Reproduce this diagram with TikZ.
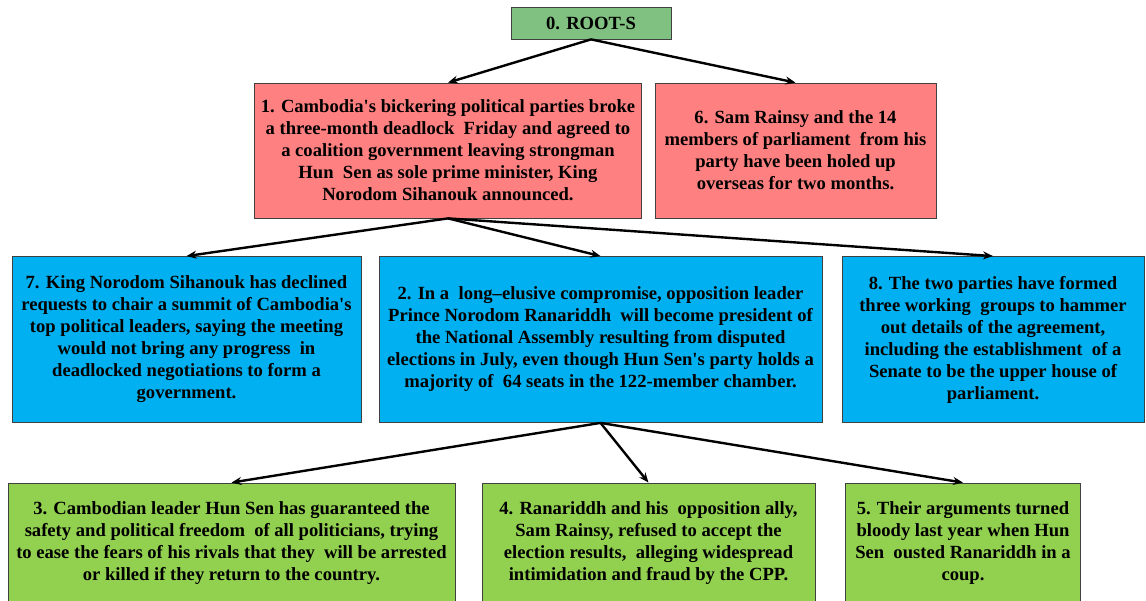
\documentclass[tikz,border=0pt]{standalone}
\usepackage{fontspec}
\setmainfont{Liberation Serif}
\usetikzlibrary{arrows.meta}

\definecolor{rootgreen}{HTML}{80C080}
\definecolor{sentpink}{HTML}{FF8080}
\definecolor{sentblue}{HTML}{00B0F0}
\definecolor{sentgreen}{HTML}{92D050}

\newcommand{\ap}{\textquotesingle}

\tikzset{
    sbox/.style={draw=black!75, line width=0.8pt, align=center, inner sep=2pt,
        font=\bfseries\fontsize{18.6}{22}\selectfont},
    rootbox/.style={sbox, fill=rootgreen},
    pinkbox/.style={sbox, fill=sentpink, minimum height=135pt},
    bluebox/.style={sbox, fill=sentblue, minimum height=166pt},
    greenbox/.style={sbox, fill=sentgreen, minimum height=120pt},
    link/.style={-{Stealth[length=10pt,width=8pt]}, line width=2.4pt}
}

\begin{document}
\begin{tikzpicture}[x=1pt, y=-1pt]
        \useasboundingbox (0,0) rectangle (1146,601);

        \node[rootbox, minimum width=160pt, minimum height=32pt] (R) at (591,23) {0. ROOT-S};

        \node[pinkbox, minimum width=387pt] (S1) at (448,150.5) {1. Cambodia\ap s bickering political parties broke\\a three-month deadlock~ Friday and agreed to\\a coalition government leaving strongman\\Hun~ Sen as sole prime minister, King\\Norodom Sihanouk announced.};
        \node[pinkbox, minimum width=281pt] (S6) at (795.5,150.5) {6. Sam Rainsy and the 14\\members of parliament~ from his\\party have been holed up\\overseas for two months.};

        \node[bluebox, minimum width=349pt] (S7) at (186.5,339.5) {7. King Norodom Sihanouk has declined\\requests to chair a summit of Cambodia\ap s\\top political leaders, saying the meeting\\would not bring any progress~ in\\deadlocked negotiations to form a\\government.};
        \node[bluebox, minimum width=443pt] (S2) at (600.5,339.5) {2. In a~ long--elusive compromise, opposition leader\\Prince Norodom Ranariddh~ will become president of\\the National Assembly resulting from disputed\\elections in July, even though Hun Sen\ap s party holds a\\majority of~ 64 seats in the 122-member chamber.};
        \node[bluebox, minimum width=302pt] (S8) at (993,339.5) {8. The two parties have formed\\three working~ groups to hammer\\out details of the agreement,\\including the establishment~ of a\\Senate to be the upper house of\\parliament.};

        \node[greenbox, minimum width=447pt] (S3) at (231.5,543) {3. Cambodian leader Hun Sen has guaranteed the\\safety and political freedom~ of all politicians, trying\\to ease the fears of his rivals that they~ will be arrested\\or killed if they return to the country.};
        \node[greenbox, minimum width=333pt] (S4) at (648.5,543) {4. Ranariddh and his~ opposition ally,\\Sam Rainsy, refused to accept the\\election results,~ alleging widespread\\intimidation and fraud by the CPP.};
        \node[greenbox, minimum width=235pt] (S5) at (963,543) {5. Their arguments turned\\bloody last year when Hun\\Sen~ ousted Ranariddh in a\\coup.};

        \path [link] (R.south) edge (S1.north);
        \path [link] (R.south) edge (S6.north);

        \path [link] (S1.south) edge (S7.north);
        \path [link] (S1.south) edge (S2.north);
        \path [link] (S1.south) edge (S8.north);

        \path [link] (S2.south) edge (S3.north);
        \path [link] (S2.south) edge (S4.north);
        \path [link] (S2.south) edge (S5.north);
    \end{tikzpicture}
\end{document}
